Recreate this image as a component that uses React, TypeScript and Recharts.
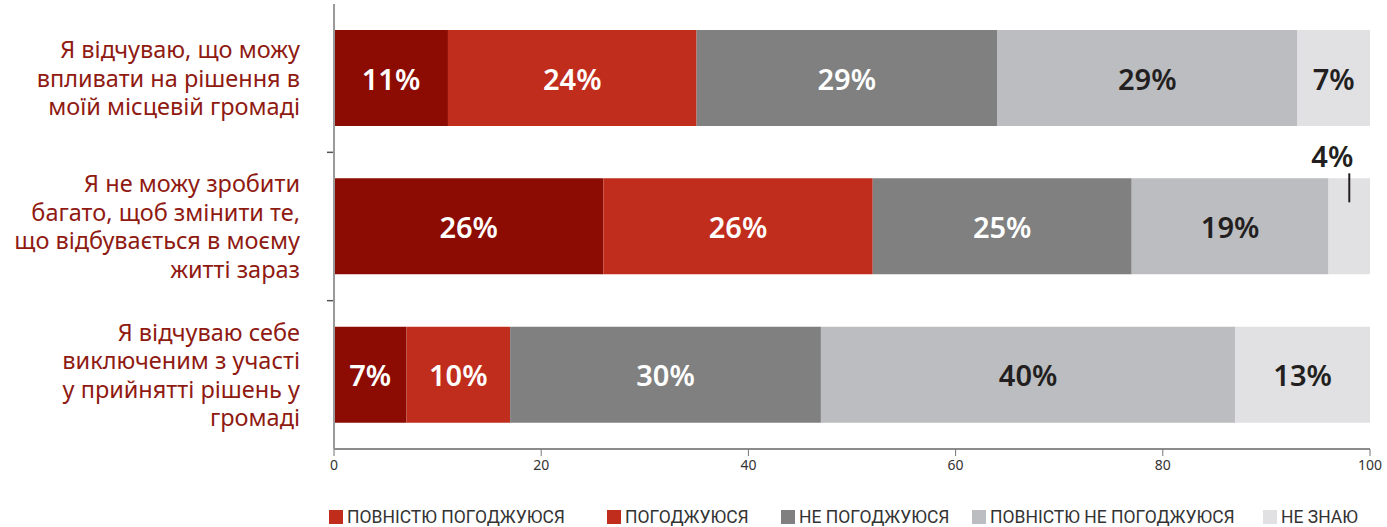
import React from "react";
import { BarChart, Bar, XAxis, YAxis, LabelList, Legend } from "recharts";

const categories = [
  "Я відчуваю, що можу впливати на рішення в моїй місцевій громаді",
  "Я не можу зробити багато, щоб змінити те, що відбувається в моєму житті зараз",
  "Я відчуваю себе виключеним з участі у прийнятті рішень у громаді",
];
const categoryLines = [
  ["Я відчуваю, що можу", "впливати на рішення в", "моїй місцевій громаді"],
  ["Я не можу зробити", "багато, щоб змінити те,", "що відбувається в моєму", "житті зараз"],
  ["Я відчуваю себе", "виключеним з участі", "у прийнятті рішень у", "громаді"],
];
const seriesNames = [
  "ПОВНІСТЮ ПОГОДЖУЮСЯ",
  "ПОГОДЖУЮСЯ",
  "НЕ ПОГОДЖУЮСЯ",
  "ПОВНІСТЮ НЕ ПОГОДЖУЮСЯ",
  "НЕ ЗНАЮ",
];
const stronglyAgree = [11, 26, 7];
const agree = [24, 26, 10];
const disagree = [29, 25, 30];
const stronglyDisagree = [29, 19, 40];
const dontKnow = [7, 4, 13];
const xTicks = [0, 20, 40, 60, 80, 100];

const colors = ["#8C0B02", "#C12D1C", "#808080", "#BCBDC0", "#E1E1E3"];
const legendColors = ["#C12D1C", "#C12D1C", "#808080", "#BCBDC0", "#E1E1E3"];
const labelColors = ["#FFFFFF", "#FFFFFF", "#FFFFFF", "#231F20", "#231F20"];
const keys = ["s1", "s2", "s3", "s4", "s5"];

const data = categories.map((c, i) => ({
  name: c,
  idx: i,
  s1: stronglyAgree[i],
  s2: agree[i],
  s3: disagree[i],
  s4: stronglyDisagree[i],
  s5: dontKnow[i],
}));

const W = 1387;
const H = 527;
const MARGIN = { top: 4, right: 17, bottom: 0, left: 0 };
const YW = 334;
const XH = 58;
const LEGH = 20;
const plotH = H - MARGIN.top - MARGIN.bottom - XH - LEGH;
const band = plotH / categories.length;
const FONT = "'Noto Sans', 'Open Sans', sans-serif";

const YTick = (props: any) => {
  const { x, y, payload, index } = props;
  const lines = categoryLines[payload.index ?? index] || [payload.value];
  const lh = 28.5;
  const start = y - ((lines.length - 1) * lh) / 2;
  return (
    <g>
      {(payload.index ?? index) > 0 && (
        <line x1={x + 27} x2={x + 33} y1={y - band / 2} y2={y - band / 2} stroke="#555" strokeWidth={1.5} />
      )}
      <text textAnchor="end" fontFamily={FONT} fontSize={23.5} fill="#8F1A12">
        {lines.map((l: string, i: number) => (
          <tspan key={i} x={x} y={start + i * lh} dy="0.36em">
            {l}
          </tspan>
        ))}
      </text>
    </g>
  );
};

const makeLabel = (si: number) => (props: any) => {
  const { x, y, width, height, value } = props;
  if (value == null) return null;
  const cx = x + width / 2;
  const cy = y + height / 2;
  if (si === 4 && value < 5) {
    return (
      <g>
        <text x={cx - 17} y={y - 23} textAnchor="middle" dominantBaseline="central" fontFamily={FONT} fontSize={29} fontWeight={600} fill="#231F20">
          {value}%
        </text>
        <line x1={cx} x2={cx} y1={y - 5} y2={y + 24} stroke="#231F20" strokeWidth={2} />
      </g>
    );
  }
  return (
    <text x={cx} y={cy} textAnchor="middle" dominantBaseline="central" fontFamily={FONT} fontSize={29} fontWeight={600} fill={labelColors[si]}>
      {value}%
    </text>
  );
};

const legendX = [329, 607, 781, 972, 1263];

const LegendContent = () => (
  <div style={{ position: "relative", width: W, height: LEGH }}>
    {seriesNames.map((n, i) => (
      <div key={n} style={{ position: "absolute", left: legendX[i], top: 3, display: "flex", alignItems: "center", height: 14 }}>
        <div style={{ width: 14, height: 14, background: legendColors[i], marginRight: 4 }} />
        <span style={{ fontFamily: "'Liberation Sans Narrow', 'Roboto', sans-serif", fontSize: 17.5, color: "#333", lineHeight: "14px", whiteSpace: "nowrap" }}>{n}</span>
      </div>
    ))}
  </div>
);

export default function App() {
  return (
    <div style={{ position: "absolute", left: 0, top: 0, width: W, height: H, background: "#fff" }}>
      <BarChart width={W} height={H} data={data} layout="vertical" margin={MARGIN} barSize={96}>
        <XAxis
          type="number"
          domain={[0, 100]}
          ticks={xTicks}
          height={XH}
          tick={{ fontFamily: FONT, fontSize: 14, fill: "#333" }}
          axisLine={{ stroke: "#666", strokeWidth: 1.5 }}
          tickLine={{ stroke: "#777" }}
          tickSize={7}
          tickMargin={4}
          interval={0}
        />
        <YAxis
          type="category"
          dataKey="name"
          width={YW}
          tick={<YTick />}
          tickLine={false}
          tickSize={0}
          tickMargin={34}
          axisLine={{ stroke: "#9A9A9A", strokeWidth: 2 }}
          interval={0}
        />
        {keys.map((k, i) => (
          <Bar key={k} dataKey={k} name={seriesNames[i]} stackId="a" fill={colors[i]} isAnimationActive={false}>
            <LabelList dataKey={k} content={makeLabel(i)} />
          </Bar>
        ))}
        <Legend
          verticalAlign="bottom"
          content={<LegendContent />}
          wrapperStyle={{ left: 0, bottom: 0, width: W, height: LEGH }}
        />
      </BarChart>
    </div>
  );
}
